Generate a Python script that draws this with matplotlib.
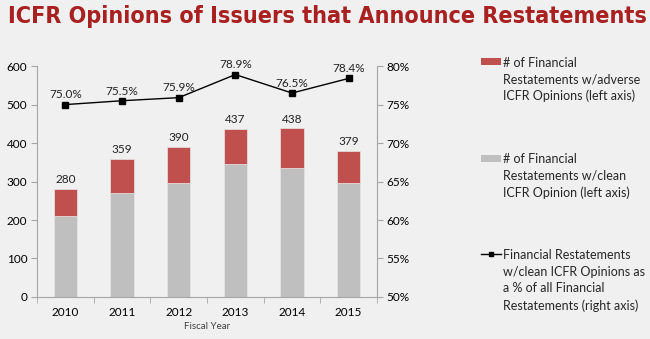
import matplotlib.pyplot as plt
from matplotlib.patches import Patch, Rectangle
from matplotlib.lines import Line2D
from matplotlib.legend_handler import HandlerPatch, HandlerLine2D
import numpy as np

plt.rcParams['font.family'] = ['Lato', 'DejaVu Sans']

years = ['2010', '2011', '2012', '2013', '2014', '2015']
clean = [210, 271, 296, 345, 335, 297]
adverse = [70, 88, 94, 92, 103, 82]
totals = [280, 359, 390, 437, 438, 379]
pct = [75.0, 75.5, 75.9, 78.9, 76.5, 78.4]

red = '#c0504d'
gray = '#bfbfbf'
axis_gray = '#a6a6a6'
LS = 1.45  # legend line spacing


# legend handles sit on the first text line, not the middle
class TopPatch(HandlerPatch):
    def __init__(self, lines_up):
        self.lines_up = lines_up
        super().__init__()

    def create_artists(self, legend, orig_handle, xdescent, ydescent, width, height, fontsize, trans):
        shift = self.lines_up * fontsize * LS
        p = Rectangle((-xdescent, -ydescent + shift), width, height)
        self.update_prop(p, orig_handle, legend)
        p.set_transform(trans)
        return [p]


class TopLine(HandlerLine2D):
    def __init__(self, lines_up, **kw):
        self.lines_up = lines_up
        super().__init__(**kw)

    def create_artists(self, legend, orig_handle, xdescent, ydescent, width, height, fontsize, trans):
        arts = super().create_artists(legend, orig_handle, xdescent, ydescent, width, height, fontsize, trans)
        shift = self.lines_up * fontsize * LS
        for a in arts:
            a.set_ydata(np.asarray(a.get_ydata()) + shift)
        return arts


fig = plt.figure(figsize=(6.5, 3.39), dpi=100, facecolor='#f0f0f0')
ax = fig.add_axes([0.057, 0.124, 0.523, 0.681])
ax.set_facecolor('none')
x = np.arange(len(years))

ax.bar(x, clean, width=0.41, color=gray, edgecolor='#e6e6e6', linewidth=0.5)
ax.bar(x, adverse, width=0.41, bottom=clean, color=red, edgecolor='#e6e6e6', linewidth=0.5)
for xi, t in zip(x, totals):
    ax.text(xi, t + 10, str(t), ha='center', va='bottom', fontsize=8.5, color='#222222')

ax.set_xlim(-0.5, 5.5)
ax.set_ylim(0, 600)
ax.set_yticks(range(0, 601, 100))
ax.set_xticks(x)
ax.set_xticklabels(years)
ax.set_xticks(np.arange(-0.5, 6, 1), minor=True)
ax.tick_params(axis='x', which='major', length=0, pad=7, labelsize=8.5)
ax.tick_params(axis='x', which='minor', length=4, color=axis_gray)
ax.tick_params(axis='y', length=4, color=axis_gray, labelsize=8.5, pad=3)
ax.set_xlabel('Fiscal Year', fontsize=7, color='#404040', labelpad=3)
for s in ['top', 'right']:
    ax.spines[s].set_visible(False)
for s in ['left', 'bottom']:
    ax.spines[s].set_color(axis_gray)

ax2 = ax.twinx()
ax2.plot(x, pct, color='black', linewidth=1, marker='s', markersize=5)
for xi, p in zip(x, pct):
    ax2.text(xi, p + 0.55, f'{p:.1f}%', ha='center', va='bottom', fontsize=8.5, color='#222222')
ax2.set_ylim(50, 80)
ax2.set_yticks(range(50, 81, 5))
ax2.set_yticklabels([f'{v}%' for v in range(50, 81, 5)])
ax2.tick_params(axis='y', length=4, color=axis_gray, labelsize=8.5, pad=3)
for s in ['top', 'left', 'bottom']:
    ax2.spines[s].set_visible(False)
ax2.spines['right'].set_color(axis_gray)

h_adv = Patch(facecolor=red)
h_clean = Patch(facecolor=gray)
h_pct = Line2D([0], [0], color='black', linewidth=1, marker='s', markersize=3.5)
labels = [
    '# of Financial\nRestatements w/adverse\nICFR Opinions (left axis)',
    '# of Financial\nRestatements w/clean\nICFR Opinion (left axis)',
    'Financial Restatements\nw/clean ICFR Opinions as\na % of all Financial\nRestatements (right axis)',
]
leg = fig.legend([h_adv, h_clean, h_pct], labels, loc='upper left', bbox_to_anchor=(0.733, 0.848),
                 frameon=False, fontsize=9, handlelength=1.55, handleheight=0.45,
                 handletextpad=0.15, labelspacing=4.05, borderaxespad=0,
                 handler_map={h_adv: TopPatch(1), h_clean: TopPatch(1),
                              h_pct: TopLine(1.5, numpoints=1)})
for t in leg.get_texts():
    t.set_color('#262626')
    t.set_linespacing(LS)

title = fig.text(0.012, 0.985, 'ICFR Opinions of Issuers that Announce Restatements',
                 ha='left', va='top', fontsize=22, fontweight='bold', color='#a8201f',
                 family='DejaVu Sans', fontstretch='condensed')
fig.canvas.draw()
w = title.get_window_extent().width
title.set_fontsize(22 * 637 / w)

fig.savefig('out.png', dpi=100, facecolor=fig.get_facecolor())
